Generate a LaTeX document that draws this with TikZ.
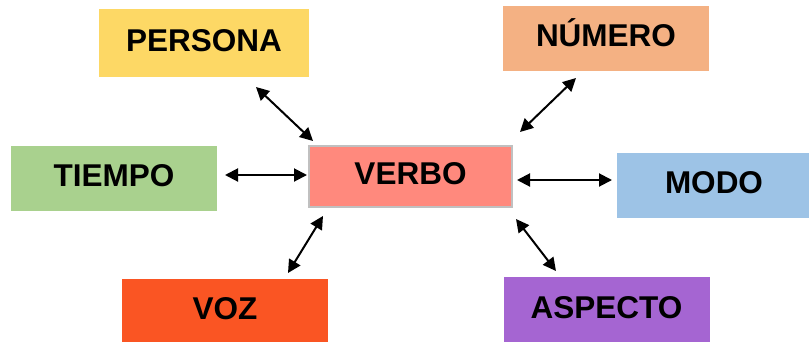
\documentclass[tikz,border=0pt]{standalone}
\usepackage{fontspec}
\setmainfont{Liberation Sans}
\usetikzlibrary{arrows.meta}
\definecolor{cPersona}{RGB}{253,216,101}
\definecolor{cNumero}{RGB}{244,177,131}
\definecolor{cTiempo}{RGB}{169,209,142}
\definecolor{cVerbo}{RGB}{255,137,125}
\definecolor{cVerboBorder}{RGB}{192,192,192}
\definecolor{cModo}{RGB}{157,195,230}
\definecolor{cVoz}{RGB}{250,85,35}
\definecolor{cAspecto}{RGB}{165,101,210}
\tikzset{
  box/.style={draw=none, minimum width=206pt, minimum height=65pt, inner sep=0pt,
    text height=22pt, text depth=6pt,
    font=\fontsize{31.5}{31.5}\selectfont\bfseries, text=black},
  link/.style={line width=2pt, {Triangle[length=13pt,width=13pt]}-{Triangle[length=13pt,width=13pt]}}
}
\begin{document}
\begin{tikzpicture}[x=1pt,y=-1pt]
\useasboundingbox (0,0) rectangle (809,341);
\node[box, fill=cPersona, minimum width=210pt, minimum height=68pt] (persona) at (204,43) {PERSONA};
\node[box, fill=cNumero] (numero) at (606,38.5) {NÚMERO};
\node[box, fill=cTiempo] (tiempo) at (114,178.5) {TIEMPO};
\node[box, fill=cVerbo, draw=cVerboBorder, line width=2pt, minimum width=203pt, minimum height=61pt] (verbo) at (410.5,176.5) {VERBO};
\node[box, fill=cModo, minimum width=194pt] (modo) at (714,185.5) {MODO};
\node[box, fill=cVoz, minimum height=64pt] (voz) at (225,311) {VOZ};
\node[box, fill=cAspecto, minimum height=66pt] (aspecto) at (606.5,310) {ASPECTO};
\coordinate (p1) at (256,87);
\coordinate (p2) at (313,141);
\coordinate (n1) at (576,78);
\coordinate (n2) at (520,132);
\coordinate (t1) at (225,175);
\coordinate (t2) at (307,175);
\coordinate (m1) at (517,180);
\coordinate (m2) at (612,180);
\coordinate (v1) at (323,216);
\coordinate (v2) at (288,273);
\coordinate (a1) at (516,219);
\coordinate (a2) at (556,271);
\draw[link] (p1) -- (p2);
\draw[link] (n1) -- (n2);
\draw[link] (t1) -- (t2);
\draw[link] (m1) -- (m2);
\draw[link] (v1) -- (v2);
\draw[link] (a1) -- (a2);
\end{tikzpicture}
\end{document}
